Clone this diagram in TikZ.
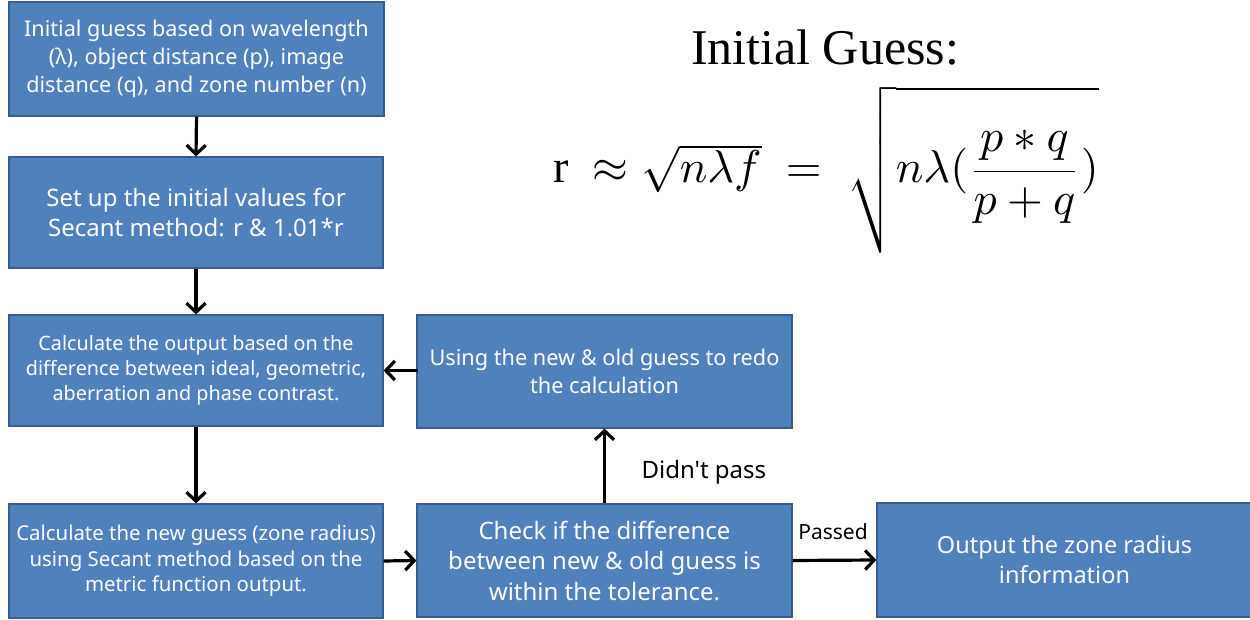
\documentclass[tikz,border=0pt]{standalone}
\usepackage{fontspec}
\usepackage{amsmath}
\usepackage{graphicx}
\setsansfont{Noto Sans}
\setmainfont{Liberation Serif}
\newfontfamily\lblfont{Noto Sans}
\usetikzlibrary{arrows.meta}
\definecolor{boxfill}{RGB}{79,129,189}
\definecolor{boxline}{RGB}{56,93,138}
\begin{document}
\begin{tikzpicture}[x=1pt,y=-1pt,
  flowbox/.style={draw=boxline, line width=1.2pt, fill=boxfill, text=white,
    font=\sffamily, align=center, inner sep=0pt, rectangle},
  flow/.style={line width=3.2pt, -{Straight Barb[length=9pt,width=19pt,line width=3.2pt]}},
  lbl/.style={text=black}]
\useasboundingbox (0,0) rectangle (1250,620);
\node[flowbox, minimum width=375pt, minimum height=114pt, font=\sffamily\fontsize{21.6}{28}\selectfont] (b1) at (196.5,59)
  {Initial guess based on wavelength\\(λ), object distance (p), image\\distance (q), and zone number (n)};
\node[flowbox, minimum width=374pt, minimum height=111pt, font=\sffamily\fontsize{24}{30}\selectfont] (b2) at (196,212.5)
  {Set up the initial values for\\Secant method: r \& 1.01*r};
\node[flowbox, minimum width=374pt, minimum height=111pt, font=\sffamily\fontsize{19.8}{25}\selectfont] (b3) at (196,370.5)
  {Calculate the output based on the\\difference between ideal, geometric,\\aberration and phase contrast.};
\node[flowbox, minimum width=375pt, minimum height=113pt, font=\sffamily\fontsize{21.7}{27.5}\selectfont] (b4) at (604.5,371.5)
  {Using the new \& old guess to redo\\the calculation};
\node[flowbox, minimum width=374pt, minimum height=114pt, font=\sffamily\fontsize{20.4}{25.5}\selectfont] (b5) at (196,561)
  {Calculate the new guess (zone radius)\\using Secant method based on the\\metric function output.};
\node[flowbox, minimum width=375pt, minimum height=113pt, font=\sffamily\fontsize{24}{30.5}\selectfont] (b6) at (604.5,560.5)
  {Check if the difference\\between new \& old guess is\\within the tolerance.};
\node[flowbox, minimum width=375pt, minimum height=114pt, font=\sffamily\fontsize{23.5}{30}\selectfont] (b7) at (1064.5,560)
  {Output the zone radius\\information};
\draw[flow] (b1.south) -- (b2.north);
\draw[flow] (b2.south) -- (b3.north);
\draw[flow] (b3.south) -- (b5.north);
\draw[flow] (b5.east) -- (b6.west);
\draw[flow] (b6.north) -- (b4.south);
\draw[flow] (b4.west) -- (b3.east -| b4.west) -- (b3.east);
\draw[flow] (b6.east) -- (b7.west);
\node[lbl, font=\lblfont\fontsize{24}{28}\selectfont, anchor=west] (dp) at (638,472) {Didn't pass};
\node[lbl, font=\lblfont\fontsize{21}{24}\selectfont] (ps) at (833,532) {Passed};
\node[font=\rmfamily\fontsize{50}{56}\selectfont] (title) at (825,48) {Initial Guess:};
\node[anchor=base, inner sep=0pt] (eq) at (826,183)
  {\scalebox{4.6}{$\mathrm{r}\ \approx\sqrt{n\lambda f}\ =\;\sqrt{\rule[-1.37em]{0pt}{3.19em}n\lambda(\dfrac{p*q}{p+q})}$}};
\end{tikzpicture}
\end{document}
